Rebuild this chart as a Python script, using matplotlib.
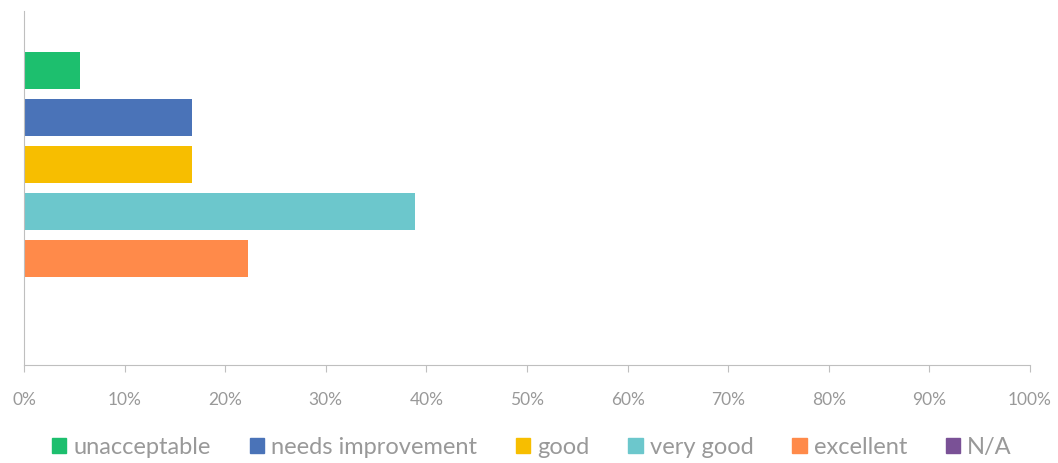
import matplotlib.pyplot as plt
import matplotlib.patches as mpatch
import numpy as np

# Dados (fração das respostas)
categories = ['unacceptable', 'needs improvement', 'good', 'very good', 'excellent', 'N/A']
values = [1/18, 3/18, 3/18, 7/18, 4/18, 0.0]
colors = ['#1DBF6E', '#4A73B8', '#F7BE00', '#6CC7CC', '#FF8A4A', '#7A5196']
tick_vals = np.arange(0, 1.01, 0.1)
tick_labels = ['%d%%' % round(v * 100) for v in tick_vals]

plt.rcParams['font.family'] = ['Lato', 'DejaVu Sans']

W, H = 1058, 464
fig = plt.figure(figsize=(W / 100, H / 100), dpi=100)
ax = fig.add_axes([24 / W, 1 - 366 / H, (1030 - 24) / W, (366 - 12) / H])

pos = np.arange(len(categories))
ax.barh(pos, values, height=0.78, color=colors, zorder=2)

ax.set_xlim(0, 1)
ax.set_ylim(len(categories) - 1 + 1.255, -1.255)

grey = '#BFBFBF'
for s in ['top', 'right']:
    ax.spines[s].set_visible(False)
ax.spines['left'].set_color(grey)
ax.spines['bottom'].set_color(grey)
ax.set_yticks([])
ax.set_xticks(tick_vals)
ax.set_xticklabels(tick_labels)
ax.tick_params(axis='x', colors=grey, length=5, labelcolor='#999999', labelsize=12.5, pad=14)

handles = [mpatch.Patch(color=c, label=l) for c, l in zip(colors, categories)]
fig.legend(handles=handles, loc='center', bbox_to_anchor=(532 / W, 1 - 448 / H), ncol=6,
           frameon=False, fontsize=17, handlelength=0.6, handleheight=0.6,
           handletextpad=0.3, columnspacing=1.65, labelcolor='#999999')

plt.savefig('out.png', dpi=100)
